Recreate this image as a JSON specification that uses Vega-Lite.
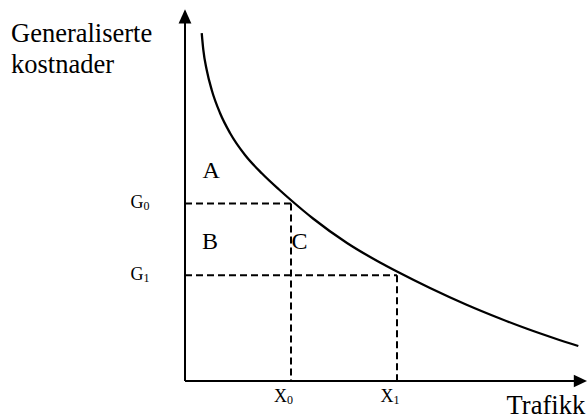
{
  "$schema": "https://vega.github.io/schema/vega-lite/v6.json",
  "autosize": "none",
  "width": 400,
  "height": 370,
  "padding": {"left": 185, "top": 11, "right": 2, "bottom": 33},
  "background": "white",
  "config": {"view": {"stroke": null}},
  "datasets": {
    "curve": [
      {"x": 4.18, "y": 94.03},
      {"x": 4.58, "y": 89.46},
      {"x": 5.43, "y": 84.05},
      {"x": 6.68, "y": 78.65},
      {"x": 8.75, "y": 72.43},
      {"x": 11.25, "y": 67.03},
      {"x": 15.0, "y": 61.08},
      {"x": 19.25, "y": 56.08},
      {"x": 23.5, "y": 51.76},
      {"x": 26.75, "y": 48.65},
      {"x": 32.0, "y": 43.92},
      {"x": 40.5, "y": 37.3},
      {"x": 48.75, "y": 32.03},
      {"x": 53.0, "y": 29.59},
      {"x": 61.25, "y": 25.14},
      {"x": 70.25, "y": 20.68},
      {"x": 78.75, "y": 16.89},
      {"x": 85.5, "y": 14.11},
      {"x": 92.5, "y": 11.49},
      {"x": 98.33, "y": 9.46}
    ],
    "dashes": [
      {"x": 0, "y": 48, "x2": 26.5, "y2": 48},
      {"x": 26.5, "y": 48, "x2": 26.5, "y2": 0},
      {"x": 0, "y": 28.6, "x2": 53, "y2": 28.6},
      {"x": 53, "y": 28.6, "x2": 53, "y2": 0}
    ],
    "axes": [
      {"x": 0, "y": 0, "x2": 0, "y2": 97.5},
      {"x": 0, "y": 0, "x2": 98.5, "y2": 0}
    ],
    "arrowheads": [
      {"axis": "y", "pos": 96.6, "lo": -1.6, "hi": 1.6},
      {"axis": "y", "pos": 100.46, "lo": 0, "hi": 0},
      {"axis": "x", "pos": 97.2, "lo": -1.7, "hi": 1.7},
      {"axis": "x", "pos": 100.5, "lo": 0, "hi": 0}
    ],
    "titles": [
      {"t": "Generaliserte", "x": -43.5, "y": 91.6},
      {"t": "kostnader", "x": -43.5, "y": 83.3},
      {"t": "Trafikk", "x": 80.4, "y": -8.9}
    ],
    "regions": [
      {"t": "A", "x": 4.4, "y": 54.8},
      {"t": "B", "x": 4.25, "y": 35.6},
      {"t": "C", "x": 26.6, "y": 35.6}
    ],
    "ticks": [
      {"label": "G", "sub": "0", "x": -10.4, "y": 46.7},
      {"label": "G", "sub": "1", "x": -10.4, "y": 27.2},
      {"label": "X", "sub": "0", "x": 25.5, "y": -5.6},
      {"label": "X", "sub": "1", "x": 52.1, "y": -5.6}
    ]
  },
  "layer": [
    {
      "data": {"name": "curve"},
      "mark": {"type": "line", "interpolate": "monotone", "color": "black", "strokeWidth": 2.3},
      "encoding": {
        "x": {"field": "x", "type": "quantitative", "scale": {"domain": [0, 100], "nice": false, "zero": false}, "axis": null},
        "y": {"field": "y", "type": "quantitative", "scale": {"domain": [0, 100], "nice": false, "zero": false}, "axis": null}
      }
    },
    {
      "data": {"name": "dashes"},
      "mark": {"type": "rule", "color": "black", "strokeWidth": 2, "strokeDash": [7, 4]},
      "encoding": {
        "x": {"field": "x", "type": "quantitative"},
        "y": {"field": "y", "type": "quantitative"},
        "x2": {"field": "x2"},
        "y2": {"field": "y2"}
      }
    },
    {
      "data": {"name": "axes"},
      "mark": {"type": "rule", "color": "black", "strokeWidth": 2},
      "encoding": {
        "x": {"field": "x", "type": "quantitative"},
        "y": {"field": "y", "type": "quantitative"},
        "x2": {"field": "x2"},
        "y2": {"field": "y2"}
      }
    },
    {
      "data": {"name": "arrowheads"},
      "transform": [{"filter": "datum.axis == 'y'"}],
      "mark": {"type": "area", "orient": "horizontal", "color": "black", "opacity": 1},
      "encoding": {
        "y": {"field": "pos", "type": "quantitative"},
        "x": {"field": "lo", "type": "quantitative"},
        "x2": {"field": "hi"}
      }
    },
    {
      "data": {"name": "arrowheads"},
      "transform": [{"filter": "datum.axis == 'x'"}],
      "mark": {"type": "area", "orient": "vertical", "color": "black", "opacity": 1},
      "encoding": {
        "x": {"field": "pos", "type": "quantitative"},
        "y": {"field": "lo", "type": "quantitative"},
        "y2": {"field": "hi"}
      }
    },
    {
      "data": {"name": "titles"},
      "mark": {"type": "text", "font": "Liberation Serif", "fontSize": 26.5, "align": "left", "baseline": "alphabetic", "color": "black"},
      "encoding": {
        "x": {"field": "x", "type": "quantitative"},
        "y": {"field": "y", "type": "quantitative"},
        "text": {"field": "t"}
      }
    },
    {
      "data": {"name": "regions"},
      "mark": {"type": "text", "font": "Liberation Serif", "fontSize": 24, "align": "left", "baseline": "alphabetic", "color": "black"},
      "encoding": {
        "x": {"field": "x", "type": "quantitative"},
        "y": {"field": "y", "type": "quantitative"},
        "text": {"field": "t"}
      }
    },
    {
      "data": {"name": "ticks"},
      "mark": {"type": "text", "font": "Liberation Serif", "fontSize": 18, "align": "right", "baseline": "alphabetic", "color": "black"},
      "encoding": {
        "x": {"field": "x", "type": "quantitative"},
        "y": {"field": "y", "type": "quantitative"},
        "text": {"field": "label"}
      }
    },
    {
      "data": {"name": "ticks"},
      "mark": {"type": "text", "font": "Liberation Serif", "fontSize": 12, "align": "left", "baseline": "alphabetic", "dy": 2, "color": "black"},
      "encoding": {
        "x": {"field": "x", "type": "quantitative"},
        "y": {"field": "y", "type": "quantitative"},
        "text": {"field": "sub"}
      }
    }
  ]
}
